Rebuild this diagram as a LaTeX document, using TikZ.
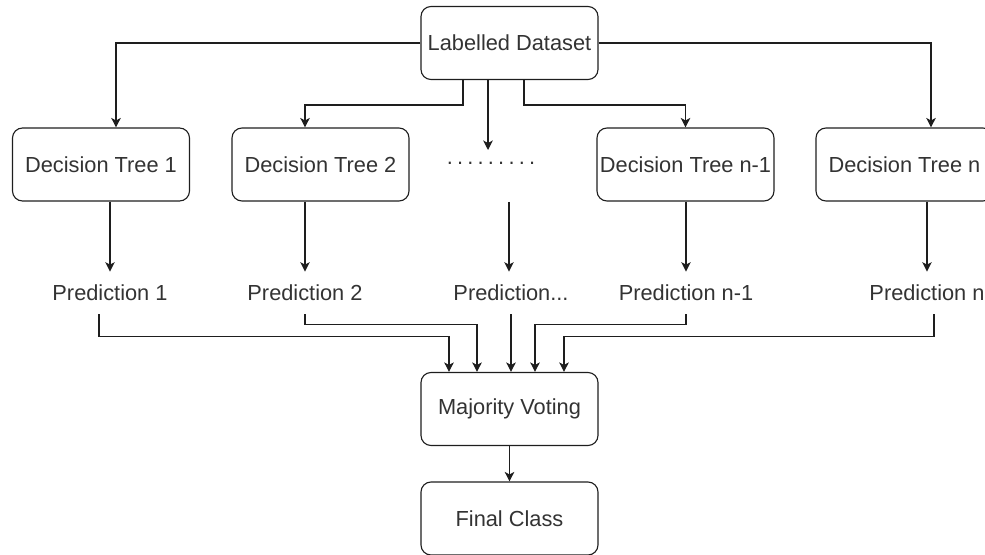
\documentclass[tikz,border=0pt]{standalone}
\usepackage{fontspec}
\setmainfont{Liberation Sans}
\usetikzlibrary{arrows.meta, positioning}
\definecolor{LineGray}{HTML}{1E1E1E}
\definecolor{TextGray}{HTML}{333333}

\begin{document}
\begin{tikzpicture}[x=0.2mm, y=-0.2mm,
    box/.style={draw=LineGray, line width=0.22mm, rounded corners=2mm, minimum width=35.4mm, minimum height=14.6mm, inner sep=0pt, text=TextGray, font=\fontsize{12.4}{15}\selectfont},
    pred/.style={minimum height=8.4mm, inner sep=0pt, text=TextGray, font=\fontsize{12.4}{15}\selectfont},
    arr/.style={draw=LineGray, line width=0.22mm, -{Stealth[length=1.9mm, width=1.9mm, inset=0.5mm]}}]
    \useasboundingbox (0,0) rectangle (985,555);

    \node[box] (ds) at (509.5,43) {Labelled Dataset};
    \node[box] (dt1) at (101,164.5) {Decision Tree 1};
    \node[box] (dt2) at (320.5,164.5) {Decision Tree 2};
    \node[inner sep=0pt, text=TextGray, font=\fontsize{12.4}{15}\selectfont] (dots) at (491,163) {.\kern2.4pt.\kern2.4pt.\kern2.4pt.\kern2.4pt.\kern2.4pt.\kern2.4pt.\kern2.4pt.\kern2.4pt.};
    \node[box] (dt4) at (685.5,164.5) {Decision Tree n-1};
    \node[box] (dt5) at (904.5,164.5) {Decision Tree n};
    \coordinate (gapin) at (488,150);
    \coordinate (gapout) at (509,202);

    \node[pred] (p1) at (110,293) {Prediction 1};
    \node[pred] (p2) at (305,293) {Prediction 2};
    \node[pred] (p3) at (511,293) {Prediction...};
    \node[pred] (p4) at (686,293) {Prediction n-1};
    \node[pred] (p5) at (927,293) {Prediction n};

    \node[box] (mv) at (509.5,409) {Majority Voting};
    \node[box] (fc) at (509.5,518.5) {Final Class};

    \draw[arr] (ds.west) -| ([xshift=3mm]dt1.north);
    \draw[arr] (ds.east) -| ([xshift=5.3mm]dt5.north);
    \draw[arr] ([xshift=-9.3mm]ds.south) -- ++(0,25) -| ([xshift=-3.1mm]dt2.north);
    \draw[arr] ([xshift=2.9mm]ds.south) -- ++(0,25) -| (dt4.north);
    \draw[arr] (ds.south -| gapin) -- (gapin);

    \draw[arr] (dt1.south -| p1.north) -- (p1.north);
    \draw[arr] (dt2.south -| p2.north) -- (p2.north);
    \draw[arr] (gapout) -- (gapout |- p3.north);
    \draw[arr] (dt4.south -| p4.north) -- (p4.north);
    \draw[arr] (dt5.south -| p5.north) -- (p5.north);

    \draw[arr] (p1.south) ++(-11,0) -- ++(0,22) -| ([xshift=-12.1mm]mv.north);
    \draw[arr] (p2.south) -- ++(0,10) -| ([xshift=-6.5mm]mv.north);
    \draw[arr] (p3.south) -- (p3.south |- mv.north);
    \draw[arr] (p4.south) -- ++(0,10) -| ([xshift=5.1mm]mv.north);
    \draw[arr] (p5.south) ++(7,0) -- ++(0,22) -| ([xshift=10.9mm]mv.north);

    \draw[arr] (mv.south) -- (fc.north);
\end{tikzpicture}
\end{document}
